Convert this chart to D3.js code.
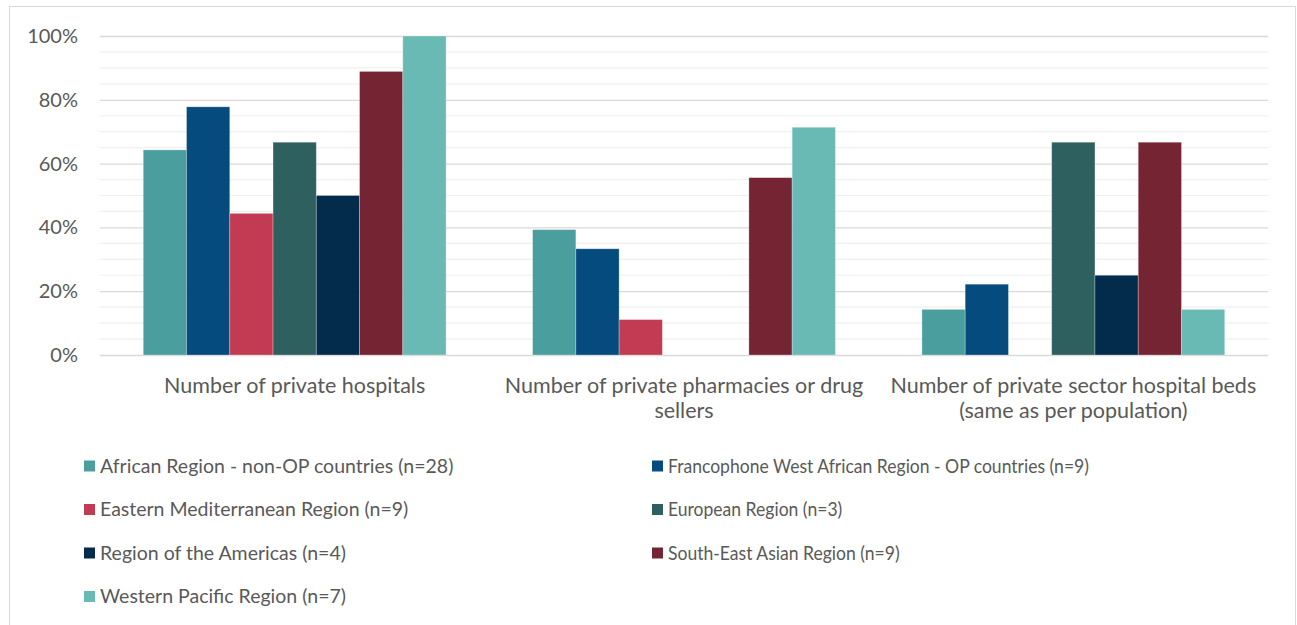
<!DOCTYPE html>
<html>
<head>
<meta charset="utf-8">
<script src="https://cdn.jsdelivr.net/npm/d3@7"></script>
<style>
  html, body { margin: 0; padding: 0; background: #fff; }
  svg { display: block; font-family: Lato, "Open Sans", sans-serif; }
</style>
</head>
<body>
<svg id="chart" width="1297" height="625"></svg>
<script>
// Share of countries reporting each private-sector indicator, by region
const categories = [
  ["Number of private hospitals"],
  ["Number of private pharmacies or drug", "sellers"],
  ["Number of private sector hospital beds", "(same as per population)"]
];
const seriesNames = [
  "African Region - non-OP countries (n=28)",
  "Francophone West African Region - OP countries (n=9)",
  "Eastern Mediterranean Region (n=9)",
  "European Region (n=3)",
  "Region of the Americas (n=4)",
  "South-East Asian Region (n=9)",
  "Western Pacific Region (n=7)"
];
const seriesColors = ["#4a9f9e", "#064b7e", "#c33b52", "#2d605f", "#032c4c", "#742432", "#69b9b5"];
// values in percent, one array per series (hospitals, pharmacies, beds)
const africanNonOP   = [64.3, 39.3, 14.3];
const francophoneOP  = [77.8, 33.3, 22.2];
const easternMed     = [44.4, 11.1, 0];
const european       = [66.7, 0, 66.7];
const americas       = [50.0, 0, 25.0];
const southEastAsia  = [88.9, 55.6, 66.7];
const westernPacific = [100, 71.4, 14.3];
const seriesValues = [africanNonOP, francophoneOP, easternMed, european, americas, southEastAsia, westernPacific];
const yTicks = [0, 20, 40, 60, 80, 100];
const yMinorTicks = d3.range(0, 101, 5);

const svg = d3.select("#chart");
const textColor = "#595959";

// outer frame
svg.append("rect")
  .attr("x", 9.5).attr("y", 6.5).attr("width", 1286).attr("height", 640)
  .attr("fill", "#fff").attr("stroke", "#d9d9d9").attr("stroke-width", 1);

const plot = { left: 100, right: 1268, top: 36, bottom: 355 };

const x0 = d3.scaleBand().domain(d3.range(categories.length))
  .range([plot.left, plot.right]).paddingInner(0).paddingOuter(0);
// one bar-width of gap on each side of a cluster
const x1 = d3.scaleBand().domain(d3.range(seriesNames.length))
  .range([0, x0.bandwidth()]).paddingOuter(1).paddingInner(0);
const y = d3.scaleLinear().domain([0, 100]).range([plot.bottom, plot.top]);

// minor gridlines every 5%
svg.append("g").selectAll("line")
  .data(yMinorTicks.filter(v => v % 20 !== 0))
  .join("line")
  .attr("x1", plot.left).attr("x2", plot.right)
  .attr("y1", d => y(d)).attr("y2", d => y(d))
  .attr("stroke", "#f0f0f0").attr("stroke-width", 1.2);

// major gridlines and tick labels
const yAxis = d3.axisLeft(y).tickValues(yTicks).tickFormat(d => d + "%")
  .tickSize(-(plot.right - plot.left)).tickPadding(22);
const ay = svg.append("g").attr("transform", `translate(${plot.left},0)`).call(yAxis);
ay.select(".domain").remove();
ay.selectAll(".tick line").attr("stroke", "#d9d9d9").attr("stroke-width", 1.3);
ay.selectAll(".tick text")
  .attr("fill", textColor).attr("font-size", 20)
  .attr("font-family", "Lato, sans-serif");

// bars
const groups = svg.append("g").selectAll("g")
  .data(categories.map((c, i) => i))
  .join("g")
  .attr("transform", i => `translate(${x0(i)},0)`);

groups.selectAll("rect")
  .data(ci => seriesValues.map((vals, si) => ({ si, v: vals[ci] })).filter(d => d.v > 0))
  .join("rect")
  .attr("x", d => x1(d.si))
  .attr("width", x1.bandwidth())
  .attr("y", d => y(d.v))
  .attr("height", d => y(0) - y(d.v))
  .attr("fill", d => seriesColors[d.si])
  .attr("stroke", "#ffffff").attr("stroke-opacity", 0.35).attr("stroke-width", 0.8);

// category labels
const xAxis = svg.append("g");
categories.forEach((lines, i) => {
  const t = xAxis.append("text")
    .attr("x", x0(i) + x0.bandwidth() / 2)
    .attr("y", 393)
    .attr("text-anchor", "middle")
    .attr("fill", textColor)
    .attr("font-size", 21.5);
  lines.forEach((ln, k) => {
    t.append("tspan").attr("x", x0(i) + x0.bandwidth() / 2).attr("dy", k === 0 ? 0 : 25).text(ln);
  });
});

// legend: two columns; the right column is set slightly narrower
const legendCols = [84, 652];
const legendScaleX = [1, 0.9];
const legendRowY = [466, 509.5, 553, 596.5];
const legend = svg.append("g").selectAll("g")
  .data(seriesNames.map((n, i) => i))
  .join("g")
  .attr("transform", i => `translate(${legendCols[i % 2]},${legendRowY[Math.floor(i / 2)]})`);
legend.append("rect")
  .attr("x", 0).attr("y", -5.5).attr("width", 11).attr("height", 11)
  .attr("fill", i => seriesColors[i]);
legend.append("text")
  .attr("transform", i => `translate(16,0) scale(${legendScaleX[i % 2]},1)`)
  .attr("dy", "0.35em")
  .attr("fill", textColor).attr("font-size", 19.5)
  .text(i => seriesNames[i]);
</script>
</body>
</html>
